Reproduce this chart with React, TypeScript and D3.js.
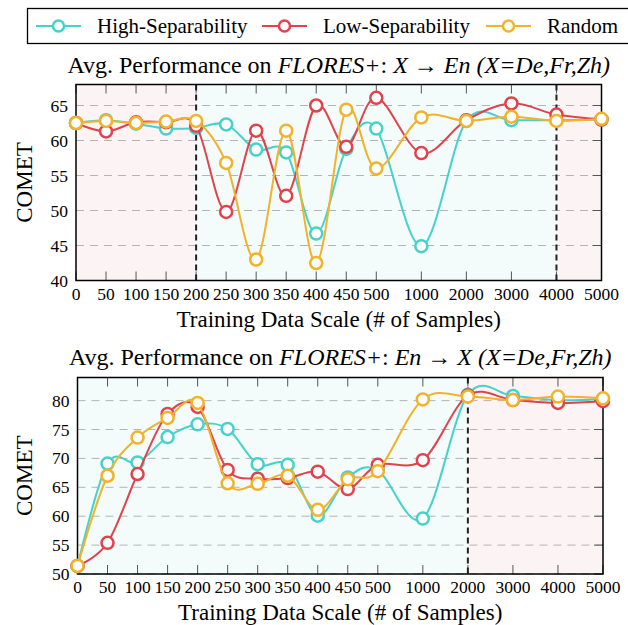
import * as d3 from 'd3';

const xValues = [0, 50, 100, 150, 200, 250, 300, 350, 400, 450, 500, 1000, 2000, 3000, 4000, 5000];

const topHigh = [62.5, 62.9, 62.4, 61.7, 61.8, 62.3, 58.7, 58.3, 46.7, 58.8, 61.7, 44.9, 62.8, 62.9, 62.9, 63.0];
const topLow = [62.5, 61.3, 62.6, 62.6, 62.1, 49.8, 61.4, 52.1, 65.0, 59.1, 66.1, 58.2, 62.9, 65.3, 63.7, 63.0];
const topRandom = [62.5, 62.8, 62.5, 62.7, 62.8, 56.8, 43.0, 61.4, 42.5, 64.4, 56.0, 63.3, 62.8, 63.4, 62.8, 63.1];

const bottomHigh = [51.4, 69.1, 69.3, 73.7, 75.9, 75.1, 69.0, 68.9, 60.1, 66.7, 68.0, 59.6, 81.0, 80.8, 80.1, 80.3];
const bottomLow = [51.4, 55.4, 67.3, 77.7, 78.9, 68.0, 66.5, 66.6, 67.7, 64.7, 68.9, 69.7, 80.9, 80.1, 79.6, 79.9];
const bottomRandom = [51.4, 67.0, 73.6, 77.0, 79.6, 65.7, 65.6, 67.0, 61.1, 66.4, 67.8, 80.2, 80.7, 80.1, 80.7, 80.4];

const seriesNames = ['High-Separability', 'Low-Separability', 'Random'];
const seriesColors = ['#45D2CB', '#E0434B', '#F2B22A'];

const topYTicks = [40, 45, 50, 55, 60, 65];
const bottomYTicks = [50, 55, 60, 65, 70, 75, 80];

// x axis is piecewise: 0..500 evenly, then 1000..5000 at 1.5x spacing
const xBreaks = [0, 500, 1000, 2000, 3000, 4000, 5000];
const xUnits = [0, 10, 11.5, 13, 14.5, 16, 17.5];

const FONT = "'Liberation Serif'";
const PINK = '#FCF4F4';
const CYAN = '#F3FBFB';

// legend item offsets (sample start), text follows 61px after
const legendX = [36, 262, 486];

type PanelProps = {
  top: number;
  bottom: number;
  left: number;
  right: number;
  yDomain: [number, number];
  yTicks: number[];
  data: number[][];
  split: number[];
  regions: { from: number; to: number; color: string }[];
  titleY: number;
  title: [string, boolean][];
};

function Panel(p: PanelProps) {
  const { top, bottom, left, right } = p;
  const width = right - left;
  const x = d3
    .scaleLinear()
    .domain(xBreaks)
    .range(xUnits.map((u) => left + (u * width) / 17.5));
  const y = d3.scaleLinear().domain(p.yDomain).range([bottom, top]);
  const line = d3
    .line<number>()
    .x((_, i) => x(xValues[i]))
    .y((d) => y(d))
    .curve(d3.curveCardinal.tension(0));

  return (
    <g>
      {p.regions.map((r, i) => (
        <rect key={i} x={x(r.from)} y={top} width={x(r.to) - x(r.from)} height={bottom - top} fill={r.color} />
      ))}
      {p.yTicks.map((t) => (
        <line key={t} x1={left} x2={right} y1={y(t)} y2={y(t)} stroke="#b4b4b4" strokeWidth={1} strokeDasharray="8,6" />
      ))}
      {xValues.map((v) => (
        <g key={v}>
          <line x1={x(v)} x2={x(v)} y1={bottom} y2={bottom - 9} stroke="#555" />
          <line x1={x(v)} x2={x(v)} y1={top} y2={top + 9} stroke="#555" />
        </g>
      ))}
      {p.yTicks.map((t) => (
        <line key={t} x1={right} x2={right - 9} y1={y(t)} y2={y(t)} stroke="#555" />
      ))}
      {p.split.map((s) => (
        <line key={s} x1={x(s)} x2={x(s)} y1={top} y2={bottom} stroke="#222" strokeWidth={2} strokeDasharray="6,4" />
      ))}
      <rect x={left} y={top} width={width} height={bottom - top} fill="none" stroke="black" strokeWidth={1.5} />
      {xValues.map((v) => (
        <text key={v} x={x(v)} y={bottom + 19} textAnchor="middle" fontSize={17.5}>
          {v}
        </text>
      ))}
      {p.yTicks.map((t) => (
        <text key={t} x={left - 8} y={y(t) + 6} textAnchor="end" fontSize={17.5}>
          {t}
        </text>
      ))}
      <text x={(left + right) / 2} y={bottom + 46} textAnchor="middle" fontSize={23}>
        Training Data Scale (# of Samples)
      </text>
      <text transform={`translate(32, ${(top + bottom) / 2}) rotate(-90)`} textAnchor="middle" fontSize={23}>
        COMET
      </text>
      <text x={(left + right) / 2} y={p.titleY} textAnchor="middle" fontSize={24}>
        {p.title.map(([s, italic], i) => (
          <tspan key={i} fontStyle={italic ? 'italic' : 'normal'}>
            {s}
          </tspan>
        ))}
      </text>
      {p.data.map((vals, si) => (
        <g key={si}>
          <path d={line(vals) ?? ''} fill="none" stroke={seriesColors[si]} strokeWidth={2} />
          {vals.map((v, i) => (
            <circle key={i} cx={x(xValues[i])} cy={y(v)} r={6} fill="white" stroke={seriesColors[si]} strokeWidth={2.5} />
          ))}
        </g>
      ))}
    </g>
  );
}

export default function App() {
  return (
    <div style={{ position: 'absolute', left: 0, top: 0 }}>
      <svg width={628} height={625} style={{ display: 'block', fontFamily: FONT }}>
        <rect x={27.5} y={8.5} width={640} height={35} fill="white" stroke="black" strokeWidth={1.3} />
        {seriesNames.map((name, i) => (
          <g key={name}>
            <line x1={legendX[i]} x2={legendX[i] + 45} y1={26} y2={26} stroke={seriesColors[i]} strokeWidth={2} />
            <circle cx={legendX[i] + 22.5} cy={26} r={5.5} fill="white" stroke={seriesColors[i]} strokeWidth={2.5} />
            <text x={legendX[i] + 61} y={33} fontSize={21}>
              {name}
            </text>
          </g>
        ))}
        <Panel
          top={84.5}
          bottom={280.5}
          left={76}
          right={601.5}
          yDomain={[40, 68]}
          yTicks={topYTicks}
          data={[topHigh, topLow, topRandom]}
          split={[200, 4000]}
          regions={[
            { from: 0, to: 200, color: PINK },
            { from: 200, to: 4000, color: CYAN },
            { from: 4000, to: 5000, color: PINK },
          ]}
          titleY={73}
          title={[
            ['Avg. Performance on ', false],
            ['FLORES+', true],
            [': ', false],
            ['X', true],
            [' \u2192 ', false],
            ['En', true],
            [' (X=De,Fr,Zh)', true],
          ]}
        />
        <Panel
          top={377.5}
          bottom={574}
          left={77.5}
          right={603}
          yDomain={[50, 84]}
          yTicks={bottomYTicks}
          data={[bottomHigh, bottomLow, bottomRandom]}
          split={[2000]}
          regions={[
            { from: 0, to: 2000, color: CYAN },
            { from: 2000, to: 5000, color: PINK },
          ]}
          titleY={365}
          title={[
            ['Avg. Performance on ', false],
            ['FLORES+', true],
            [': ', false],
            ['En', true],
            [' \u2192 ', false],
            ['X', true],
            [' (X=De,Fr,Zh)', true],
          ]}
        />
      </svg>
    </div>
  );
}
